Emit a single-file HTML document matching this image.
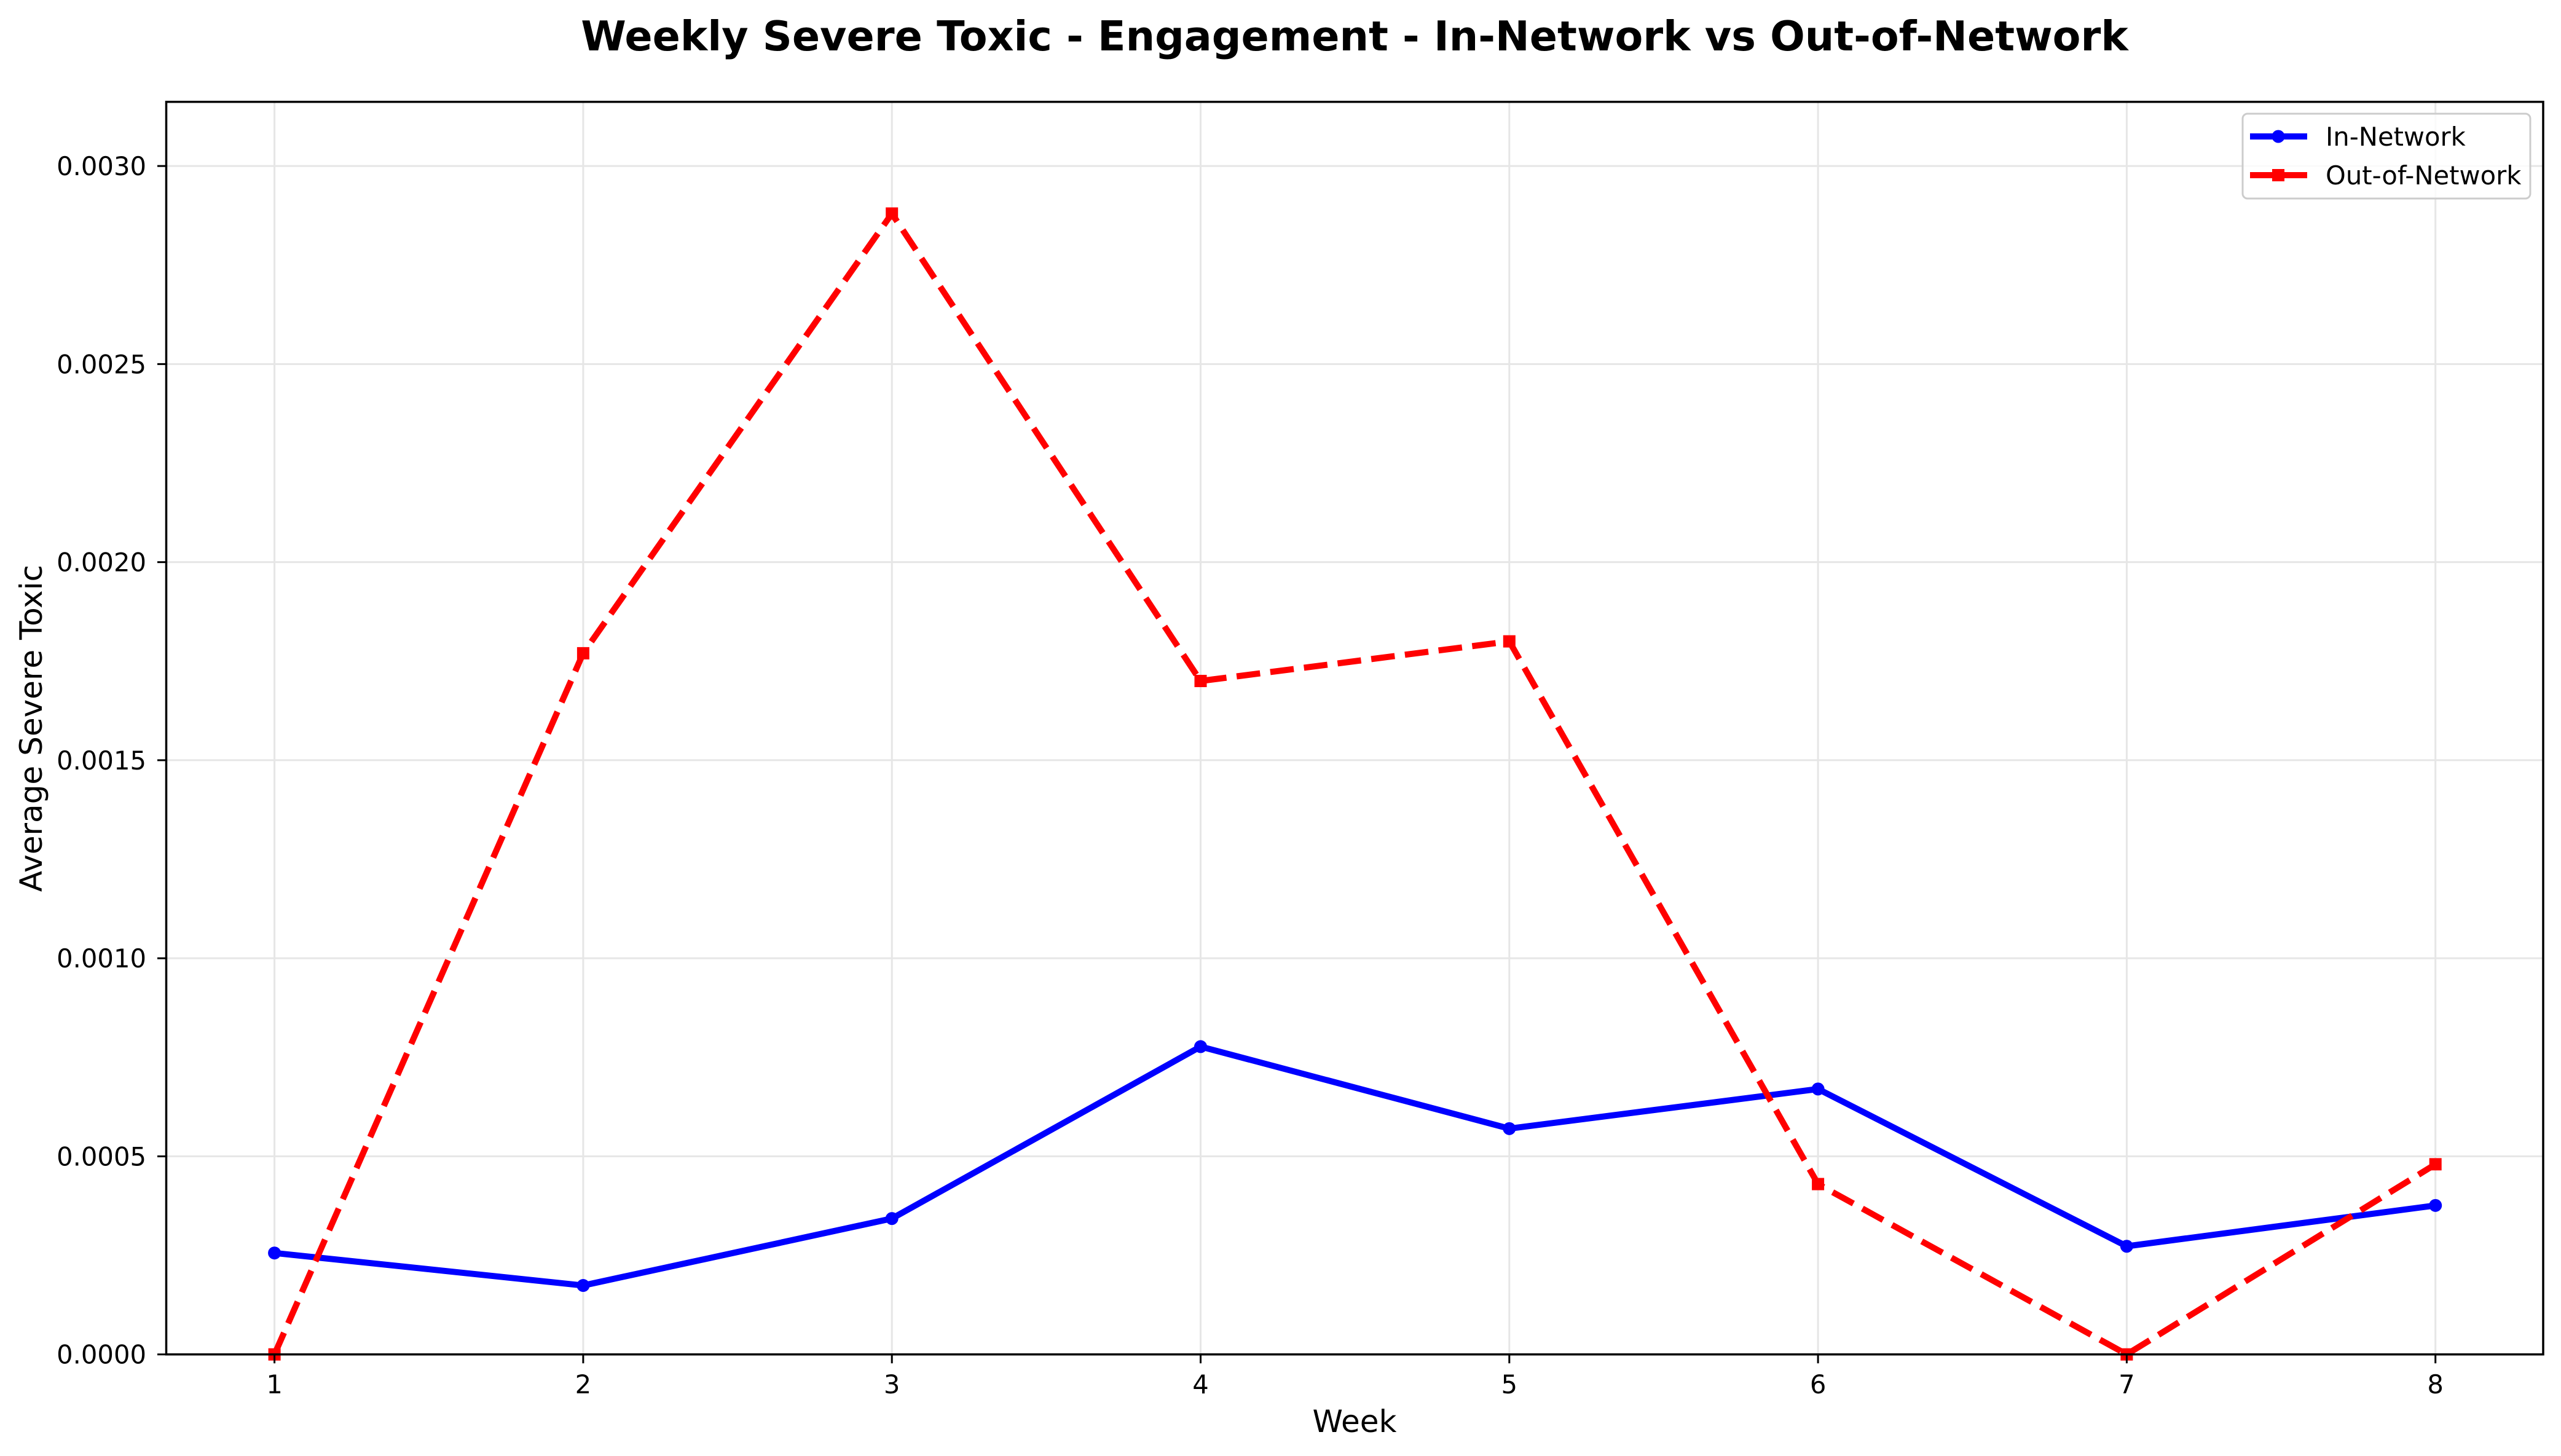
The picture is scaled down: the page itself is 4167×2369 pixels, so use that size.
<!DOCTYPE html>
<html><head><meta charset="utf-8"><style>
html,body{margin:0;padding:0;background:#fff;}
svg{display:block;font-family:"DejaVu Sans","Liberation Sans",sans-serif;}
</style></head><body>
<svg id="chart" width="4167" height="2369" viewBox="0 0 4167 2369" xmlns="http://www.w3.org/2000/svg">
<rect width="4167" height="2369" fill="#fff"/>
<text x="2204" y="82" text-anchor="middle" font-size="66.7" font-weight="bold">Weekly Severe Toxic - Engagement - In-Network vs Out-of-Network</text>
<g id="grid"></g>
<g id="series"></g>
<rect x="270.5" y="165.7" width="3867.5" height="2038" fill="none" stroke="#000" stroke-width="3.5"/>
<g id="axes"></g>
<text x="2204" y="2330" text-anchor="middle" font-size="50">Week</text>
<text transform="translate(68,1185) rotate(-90)" text-anchor="middle" font-size="50">Average Severe Toxic</text>
<g>
<rect x="3649" y="185" width="468" height="138" rx="8" fill="#fff" fill-opacity="0.8" stroke="#ccc" stroke-width="3"/>
<g>
<line x1="3661" y1="222" x2="3754" y2="222" stroke="#0000ff" stroke-width="10"/>
<circle cx="3707" cy="222" r="10.5" fill="#0000ff"/>
<text x="3784" y="237" font-size="41.7">In-Network</text>
</g>
<g>
<line x1="3661" y1="285" x2="3754" y2="285" stroke="#ff0000" stroke-width="10" stroke-dasharray="38.5,16.7"/>
<rect x="3697" y="275" width="20" height="20" fill="#ff0000"/>
<text x="3784" y="300" font-size="41.7">Out-of-Network</text>
</g>
</g>
</svg>
<script>
const weeks = [1,2,3,4,5,6,7,8];
const inNetwork = [0.000256,0.000174,0.000343,0.000777,0.00057,0.00067,0.000273,0.000376];
const outNetwork = [0,0.00177,0.00288,0.0017,0.0018,0.00043,0,0.00048];
const yTicks = [0,0.0005,0.001,0.0015,0.002,0.0025,0.003];
const yTickLabels = ["0.0000","0.0005","0.0010","0.0015","0.0020","0.0025","0.0030"];

const NS="http://www.w3.org/2000/svg";
const L=270.5,R=4138,T=165.7,B=2203.7;
const yMax=0.003162;
function xs(w){return 446.6+(w-1)*502.3;}
function ys(v){return B-(v/yMax)*(B-T);}
function mk(tag,attrs,parent){const e=document.createElementNS(NS,tag);for(const k in attrs)e.setAttribute(k,attrs[k]);parent.appendChild(e);return e;}
const grid=document.getElementById('grid'),axes=document.getElementById('axes'),series=document.getElementById('series');
weeks.forEach(w=>{
  const x=xs(w);
  const g=mk('line',{x1:x,y1:T,x2:x,y2:B,stroke:'#e6e6e6','stroke-width':3},grid);
  
  
  const t=mk('line',{x1:x,y1:B,x2:x,y2:B+14.5,stroke:'#000','stroke-width':3},axes);
  
  
  const lb=mk('text',{x:x,y:2267,'text-anchor':'middle','font-size':41.7},axes);
  lb.textContent=String(w);
  
  
});
yTicks.forEach((v,i)=>{
  const y=ys(v);
  const g=mk('line',{x1:L,y1:y,x2:R,y2:y,stroke:'#e6e6e6','stroke-width':3},grid);
  
  
  const t=mk('line',{x1:L-14.5,y1:y,x2:L,y2:y,stroke:'#000','stroke-width':3},axes);
  
  
  const lb=mk('text',{x:238,y:y+15,'text-anchor':'end','font-size':41.7},axes);
  lb.textContent=yTickLabels[i];
  
  
});
function pts(arr){return arr.map((v,i)=>xs(weeks[i])+','+ys(v)).join(' ');}
const lb=mk('polyline',{points:pts(inNetwork),fill:'none',stroke:'#0000ff','stroke-width':10,'stroke-linejoin':'round'},series);


const lr=mk('polyline',{points:pts(outNetwork),fill:'none',stroke:'#ff0000','stroke-width':10,'stroke-dasharray':'38.5,16.7'},series);


inNetwork.forEach((v,i)=>{
  const c=mk('circle',{cx:xs(weeks[i]),cy:ys(v),r:10.5,fill:'#0000ff'},series);
  
  
});
outNetwork.forEach((v,i)=>{
  const s=mk('rect',{x:xs(weeks[i])-10,y:ys(v)-10,width:20,height:20,fill:'#ff0000'},series);
  
  
});
</script>
</body></html>
